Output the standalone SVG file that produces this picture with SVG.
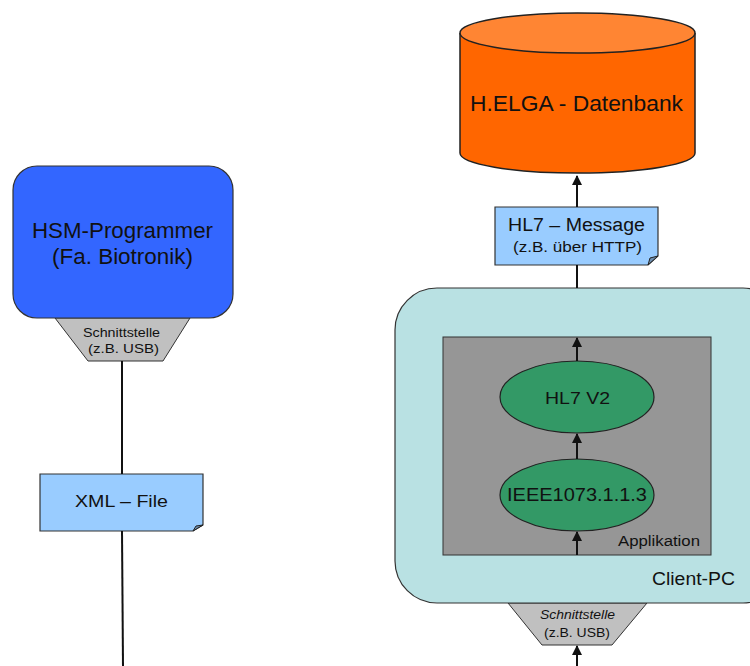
<svg xmlns="http://www.w3.org/2000/svg" width="750" height="666" viewBox="0 0 750 666">
<defs>
<style>
text{font-family:"Liberation Sans",Arial,sans-serif;fill:#111;text-anchor:middle}
.ln{stroke:#111;stroke-width:2;fill:none}
.note{fill:#99ccff;stroke:#333;stroke-width:1.2}
.fold{fill:#6f8fb0;stroke:#222;stroke-width:1}
.intf{fill:#c0c0c0;stroke:#333;stroke-width:1}
.ell{fill:#339966;stroke:#222;stroke-width:1.2}
</style>
<marker id="ah" viewBox="0 0 10 10" refX="9" refY="5" markerWidth="5" markerHeight="5" orient="auto">
<path d="M0,0 L10,5 L0,10 z" fill="#111"/>
</marker>
</defs>
<rect width="750" height="666" fill="#fff"/>

<g id="datenbank">
<path d="M460,33 L460,153 A117.5,20 0 0 0 695,153 L695,33" fill="#ff6600" stroke="#222" stroke-width="1.5"/>
<ellipse cx="577.5" cy="33" rx="117.5" ry="20" fill="#ff8533" stroke="#222" stroke-width="1.5"/>
<text x="576.5" y="111" font-size="22" textLength="213" lengthAdjust="spacingAndGlyphs">H.ELGA - Datenbank</text>
</g>

<g id="hl7-message">
<path class="note" d="M495,207 L658,207 L658,256 L648,265 L495,265 z"/>
<path class="fold" d="M648,265 L650,258 L658,256 z"/>
<text x="576.5" y="231" font-size="18" textLength="137" lengthAdjust="spacingAndGlyphs">HL7 – Message</text>
<text x="577.5" y="252" font-size="14" textLength="129" lengthAdjust="spacingAndGlyphs">(z.B. über HTTP)</text>
</g>

<g id="client-pc">
<path d="M508,603 L647,603 L612,645 L542,645 z" class="intf"/>
<rect x="395" y="288" width="390" height="315" rx="42" ry="42" fill="#b9e1e3" stroke="#333" stroke-width="1.2"/>
<text x="693.5" y="585" font-size="18" textLength="83" lengthAdjust="spacingAndGlyphs">Client-PC</text>
<text x="577.5" y="619" font-size="12" font-style="italic" textLength="75" lengthAdjust="spacingAndGlyphs">Schnittstelle</text>
<text x="577" y="637" font-size="12" textLength="66" lengthAdjust="spacingAndGlyphs">(z.B. USB)</text>
</g>

<g id="applikation">
<rect x="443" y="337" width="268" height="218" fill="#969696" stroke="#333" stroke-width="1"/>
<text x="659" y="546" font-size="14" textLength="82" lengthAdjust="spacingAndGlyphs">Applikation</text>
</g>

<g id="hl7v2">
<ellipse class="ell" cx="577" cy="397" rx="77" ry="36"/>
<text x="577.5" y="404" font-size="16" textLength="65" lengthAdjust="spacingAndGlyphs">HL7 V2</text>
</g>

<g id="ieee">
<ellipse class="ell" cx="577" cy="495" rx="77" ry="36"/>
<text x="577" y="501" font-size="18" textLength="140" lengthAdjust="spacingAndGlyphs">IEEE1073.1.1.3</text>
</g>

<g id="hsm-programmer">
<path d="M55,318 L190,318 L163,361 L88,361 z" class="intf"/>
<rect x="13" y="166" width="220" height="152" rx="24" ry="24" fill="#3366ff" stroke="#333" stroke-width="1.2"/>
<text x="122.5" y="238" font-size="22" textLength="181" lengthAdjust="spacingAndGlyphs">HSM-Programmer</text>
<text x="122.5" y="264" font-size="22" textLength="141" lengthAdjust="spacingAndGlyphs">(Fa. Biotronik)</text>
<text x="121.5" y="337" font-size="12" textLength="77" lengthAdjust="spacingAndGlyphs">Schnittstelle</text>
<text x="123.5" y="353" font-size="12" textLength="71" lengthAdjust="spacingAndGlyphs">(z.B. USB)</text>
</g>

<g id="xml-file">
<path class="note" d="M40,474 L203,474 L203,525 L193,531 L40,531 z"/>
<path class="fold" d="M193,531 L196,526 L203,525 z"/>
<text x="121.5" y="507" font-size="17" textLength="93" lengthAdjust="spacingAndGlyphs">XML – File</text>
</g>

<g id="connectors">
<line class="ln" x1="577" y1="207" x2="577" y2="176" marker-end="url(#ah)"/>
<line class="ln" x1="577" y1="288" x2="577" y2="265"/>
<line class="ln" x1="577" y1="361" x2="577" y2="338" marker-end="url(#ah)"/>
<line class="ln" x1="577" y1="459" x2="577" y2="434" marker-end="url(#ah)"/>
<line class="ln" x1="577" y1="555" x2="577" y2="532" marker-end="url(#ah)"/>
<line class="ln" x1="577" y1="666" x2="577" y2="646" marker-end="url(#ah)"/>
<line class="ln" x1="122" y1="361" x2="122" y2="474"/>
<line class="ln" x1="122" y1="531" x2="123" y2="666"/>
</g>
</svg>
